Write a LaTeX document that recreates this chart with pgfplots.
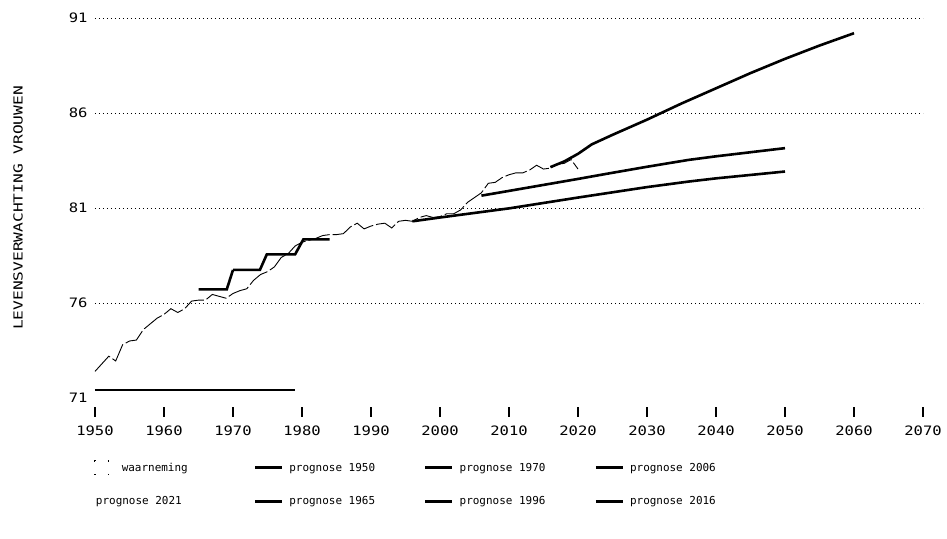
\documentclass[border=0pt]{standalone}
\usepackage{pgfplots}
\pgfplotsset{compat=1.18}
\usepackage{fontspec}
\setmainfont{DejaVu Sans Mono}
\newfontfamily\tickfont{DejaVu Sans Mono}[FakeStretch=1.2]
\newfontfamily\labfont{DejaVu Sans Mono}[FakeStretch=1.3]

\pgfplotstableread{
year val
1950 72.4
1951 72.8
1952 73.2
1953 72.95
1954 73.8
1955 74.0
1956 74.05
1957 74.6
1958 74.9
1959 75.2
1960 75.4
1961 75.7
1962 75.5
1963 75.7
1964 76.1
1965 76.15
1966 76.15
1967 76.45
1968 76.35
1969 76.25
1970 76.5
1971 76.65
1972 76.75
1973 77.2
1974 77.5
1975 77.65
1976 77.9
1977 78.4
1978 78.6
1979 79.0
1980 79.2
1981 79.3
1982 79.4
1983 79.55
1984 79.6
1985 79.6
1986 79.65
1987 80.0
1988 80.2
1989 79.9
1990 80.05
1991 80.15
1992 80.2
1993 79.95
1994 80.3
1995 80.35
1996 80.3
1997 80.5
1998 80.6
1999 80.5
2000 80.55
2001 80.7
2002 80.7
2003 80.9
2004 81.3
2005 81.55
2006 81.8
2007 82.3
2008 82.35
2009 82.6
2010 82.75
2011 82.85
2012 82.85
2013 83.0
2014 83.25
2015 83.05
2016 83.1
2017 83.3
2018 83.35
2019 83.55
2020 83.05
}\obs

\begin{document}
\begin{tikzpicture}
\useasboundingbox (-95bp,-141bp) rectangle (852bp,398bp);
\begin{axis}[
  scale only axis,
  width=828bp, height=380bp,
  at={(0,0)}, anchor=south west,
  clip=false,
  xmin=1950, xmax=2070, ymin=71, ymax=91,
  axis x line*=bottom, axis y line*=left,
  axis line style={draw=none},
  xtick={1950,1960,...,2070},
  ytick={76,81,86,91},
  extra y ticks={71},
  extra y tick style={grid=none},
  ymajorgrids,
  major grid style={black, line width=0.9bp, dash pattern=on 1bp off 3bp},
  x tick label style={/pgf/number format/1000 sep={}},
  /pgf/number format/assume math mode=true,
  tick label style={font=\tickfont\fontsize{13}{15}\selectfont},
  xtick align=outside,
  major tick length=10bp,
  ytick style={draw=none},
  xtick style={draw=none},
  xticklabel style={yshift=-14bp},
  yticklabel style={xshift=-4bp},
  ylabel={LEVENSVERWACHTING VROUWEN},
  ylabel style={at={(axis description cs:-0.093,0.5)}, anchor=center, rotate=0, font=\labfont\fontsize{12.5}{14}\selectfont},
  legend columns=4,
  legend cell align=left,
  legend style={draw=none, fill=none, at={(axis description cs:0,0)}, anchor=north west,
    xshift=-4bp, yshift=-60bp, font=\fontsize{11}{13}\selectfont,
    /tikz/every odd column/.append style={column sep=4bp},
    /tikz/every even column/.append style={column sep=47bp},
    row sep=19bp},
  legend image code/.code={\draw[#1] (0bp,0bp) -- (27bp,0bp);},
]
% tick marks (detached below the plot area)
\pgfplotsinvokeforeach{1950,1960,1970,1980,1990,2000,2010,2020,2030,2040,2050,2060,2070}{
  \draw[black, line width=1.2bp] (axis cs:#1,71) ++(0bp,-9bp) -- ++(0bp,-10bp);
}
% data
\addplot[black, line width=0.9bp, dash pattern=on 22bp off 3bp, forget plot] table[x=year,y=val] {\obs};
\addplot[black, line width=2.6bp, forget plot] coordinates {(1950,71.42) (1979,71.42)};
\addplot[black, line width=2.6bp, forget plot] coordinates {(1965,76.72) (1969.1,76.72) (1970,77.74)};
\addplot[black, line width=2.6bp, forget plot] coordinates {(1970,77.74) (1973.9,77.74) (1974.9,78.56) (1979,78.56) (1980.2,79.35) (1984,79.35)};
\addplot[black, line width=2.6bp, forget plot] coordinates {(1996,80.3) (2000,80.5) (2010,80.98) (2020,81.55) (2024,81.77) (2030,82.1) (2036,82.39) (2040,82.56) (2050,82.92)};
\addplot[black, line width=2.6bp, forget plot] coordinates {(2006,81.65) (2010,81.9) (2020,82.53) (2024,82.79) (2030,83.17) (2036,83.53) (2040,83.72) (2050,84.15)};
\addplot[black, line width=2.6bp, forget plot] coordinates {(2016,83.15) (2018,83.45) (2020,83.85) (2022,84.35) (2025,84.85) (2030,85.65) (2035,86.5) (2040,87.3) (2045,88.1) (2050,88.85) (2055,89.55) (2060,90.2)};
% legend (row-major order)
\addlegendimage{legend image code/.code={\draw[black, line width=1.2bp, dash pattern=on 2bp off 12bp, dash phase=1bp] (0bp,-7bp) rectangle (14bp,7bp); \path[draw=none] (21bp,0bp);}}
\addlegendentry{waarneming\hspace*{17bp}}
\addlegendimage{black, line width=2.6bp}
\addlegendentry{prognose 1950}
\addlegendimage{black, line width=2.6bp}
\addlegendentry{prognose 1970}
\addlegendimage{black, line width=2.6bp}
\addlegendentry{prognose 2006}
\addlegendimage{legend image code/.code={\node[overlay, anchor=west, inner sep=0pt, font=\fontsize{11}{13}\selectfont] at (1bp,0bp) {prognose 2021};}}
\addlegendentry{}
\addlegendimage{black, line width=2.6bp}
\addlegendentry{prognose 1965}
\addlegendimage{black, line width=2.6bp}
\addlegendentry{prognose 1996}
\addlegendimage{black, line width=2.6bp}
\addlegendentry{prognose 2016}
\end{axis}
\end{tikzpicture}
\end{document}
